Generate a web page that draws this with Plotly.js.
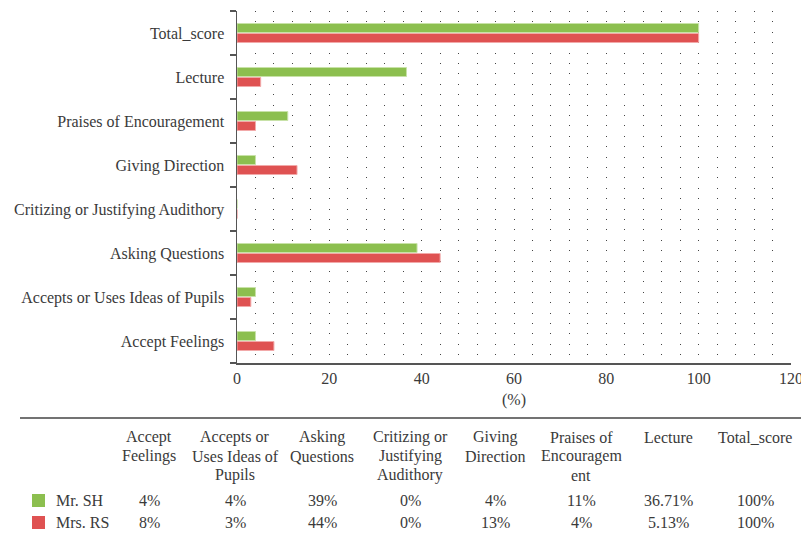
<!DOCTYPE html>
<html>
<head>
<meta charset="utf-8">
<script src="https://cdn.plot.ly/plotly-3.0.1.min.js"></script>
<style>
  html, body { margin: 0; padding: 0; background: #ffffff; }
  #chart { width: 801px; height: 541px; }
</style>
</head>
<body>
<div id="chart"></div>
<script>
// ---- data ----
const categories = [
  "Accept Feelings",
  "Accepts or Uses Ideas of Pupils",
  "Asking Questions",
  "Critizing or Justifying Audithory",
  "Giving Direction",
  "Praises of Encouragement",
  "Lecture",
  "Total_score"
];
const tableHeaders = [
  "Accept<br>Feelings",
  "Accepts or<br>Uses Ideas of<br>Pupils",
  "Asking<br>Questions",
  "Critizing or<br>Justifying<br>Audithory",
  "Giving<br>Direction",
  "Praises of<br>Encouragem<br>ent",
  "Lecture",
  "Total_score"
];
const seriesNames = ["Mr. SH", "Mrs. RS"];
const mrSH = [4, 4, 39, 0, 4, 11, 36.71, 100];
const mrsRS = [8, 3, 44, 0, 13, 4, 5.13, 100];
const xTickVals = [0, 20, 40, 60, 80, 100, 120];

// ---- styling ----
const GREEN = "#8cbf4f";
const GREEN_EDGE = "#c8e2a8";
const RED = "#df5252";
const RED_EDGE = "#f2a9a9";
const TXT = "#3a3a3a";
const FONT = "Liberation Serif, Times New Roman, serif";
const FS = 16;

// plot area in pixels
const L = 237, R = 791, T = 11, B = 363;
const xp = p => (p - L) / (R - L);
const yp = p => (B - p) / (B - T);

const traces = [
  {
    type: "bar", orientation: "h", name: seriesNames[1],
    y: categories, x: mrsRS,
    marker: { color: RED, line: { color: RED_EDGE, width: 1 } },
    hoverinfo: "x+y"
  },
  {
    type: "bar", orientation: "h", name: seriesNames[0],
    y: categories, x: mrSH,
    marker: { color: GREEN, line: { color: GREEN_EDGE, width: 1 } },
    hoverinfo: "x+y"
  }
];

// table annotations
const colCenters = [149, 235, 322, 410, 495, 581, 668, 755];
const headerLineY = 437, headerLineStep = 19;
const annotations = [];
tableHeaders.forEach((h, i) => {
  h.split("<br>").forEach((line, k) => {
    annotations.push({
      xref: "paper", yref: "paper", x: xp(colCenters[i]), y: yp(headerLineY + k * headerLineStep),
      xanchor: "center", yanchor: "middle", align: "center",
      text: line, showarrow: false,
      font: { family: FONT, size: FS, color: TXT }
    });
  });
});
const rowsY = [500, 522];
[mrSH, mrsRS].forEach((vals, r) => {
  vals.forEach((v, i) => {
    annotations.push({
      xref: "paper", yref: "paper", x: xp(colCenters[i]), y: yp(rowsY[r]),
      xanchor: "center", yanchor: "middle",
      text: String(v) + "%", showarrow: false,
      font: { family: FONT, size: FS, color: TXT }
    });
  });
  annotations.push({
    xref: "paper", yref: "paper", x: xp(54), y: yp(rowsY[r]),
    xanchor: "left", yanchor: "middle",
    text: seriesNames[r], showarrow: false,
    font: { family: FONT, size: FS, color: TXT }
  });
});

const shapes = [
  { type: "line", xref: "paper", yref: "paper",
    x0: xp(20), x1: xp(801), y0: yp(418), y1: yp(418),
    line: { color: "#444444", width: 1.5 } },
  { type: "rect", xref: "paper", yref: "paper",
    x0: xp(32), x1: xp(45), y0: yp(494), y1: yp(507),
    fillcolor: GREEN, line: { width: 0 } },
  { type: "rect", xref: "paper", yref: "paper",
    x0: xp(32), x1: xp(45), y0: yp(516), y1: yp(529),
    fillcolor: RED, line: { width: 0 } }
];

const layout = {
  width: 801, height: 541,
  margin: { l: L, r: 801 - R, t: T, b: 541 - B, pad: 0 },
  paper_bgcolor: "#ffffff", plot_bgcolor: "#ffffff",
  barmode: "group", bargap: 0.545, bargroupgap: 0.1,
  showlegend: false,
  font: { family: FONT, size: FS, color: TXT },
  xaxis: {
    range: [0, 120], tickvals: xTickVals, ticks: "",
    ticklabeloverflow: "allow",
    showline: true, linecolor: "#555555", linewidth: 1.5,
    showgrid: true, gridcolor: "#444444", gridwidth: 1, griddash: "1px,9.4px",
    minor: { dtick: 4, showgrid: true, gridcolor: "#444444", gridwidth: 1, griddash: "1px,9.4px" },
    zeroline: false,
    tickfont: { family: FONT, size: FS, color: TXT },
    title: { text: "(%)", font: { family: FONT, size: FS, color: TXT }, standoff: 8 },
    fixedrange: true
  },
  yaxis: {
    type: "category", categoryorder: "array", categoryarray: categories,
    showline: true, linecolor: "#555555", linewidth: 1.5,
    ticks: "outside", tickson: "boundaries", ticklen: 6, tickcolor: "#555555", tickwidth: 1.5,
    showgrid: false, zeroline: false,
    tickfont: { family: FONT, size: FS, color: TXT },
    ticklabelstandoff: 8,
    fixedrange: true
  },
  annotations: annotations,
  shapes: shapes
};

Plotly.newPlot("chart", traces, layout, { displayModeBar: false, staticPlot: true });
</script>
</body>
</html>
